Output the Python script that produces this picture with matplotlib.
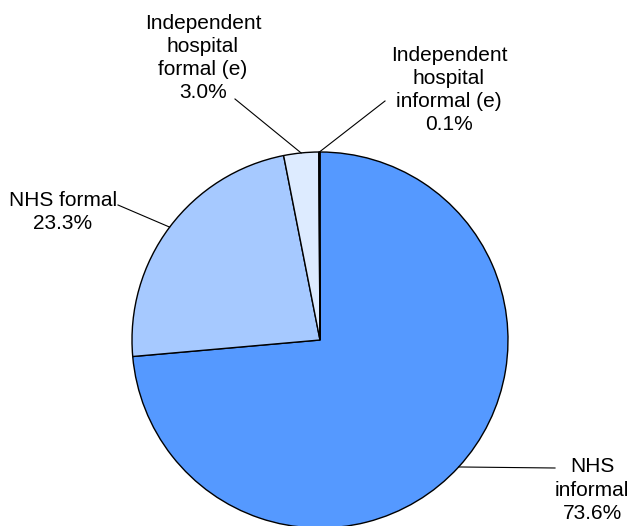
import matplotlib
matplotlib.use("Agg")
import matplotlib.pyplot as plt
import numpy as np

plt.rcParams['font.family'] = ['Liberation Sans', 'DejaVu Sans']

labels = ["NHS\ninformal", "NHS formal", "Independent\nhospital\nformal (e)", "Independent\nhospital\ninformal (e)"]
values = [73.6, 23.3, 3.0, 0.1]
colors = ["#5599FF", "#A6C9FF", "#DDEBFF", "#2A4A80"]

W, H = 633, 526
fig = plt.figure(figsize=(W / 100, H / 100), dpi=100)
cx, cy, R = 320, 340, 188
ax = fig.add_axes([(cx - R) / W, (H - cy - R) / H, 2 * R / W, 2 * R / H])
ax.axis('off')

wedges, _ = ax.pie(values, colors=colors, startangle=90, counterclock=False,
                   radius=1, wedgeprops=dict(edgecolor='black', linewidth=1.0))
ax.set_xlim(-1, 1)
ax.set_ylim(-1, 1)

def px(x, y):
    return (x - cx) / R, (cy - y) / R

# label layout (pixel positions): text centre, line end
layout = [
    ((592, 490), (555, 468)),
    ((63, 212), (118, 205)),
    ((203, 58), (235, 99)),
    ((449, 90), (385, 101)),
]

for w, lab, v, (tpos, lend) in zip(wedges, labels, values, layout):
    ang = np.deg2rad((w.theta1 + w.theta2) / 2)
    ex, ey = np.cos(ang), np.sin(ang)
    lx, ly = px(*lend)
    ax.plot([ex, lx], [ey, ly], color='black', linewidth=0.8, clip_on=False)
    tx, ty = px(*tpos)
    ax.text(tx, ty, f"{lab}\n{v:.1f}%", ha='center', va='center', fontsize=15,
            linespacing=1.28, clip_on=False)

fig.savefig("out.png", dpi=100)
